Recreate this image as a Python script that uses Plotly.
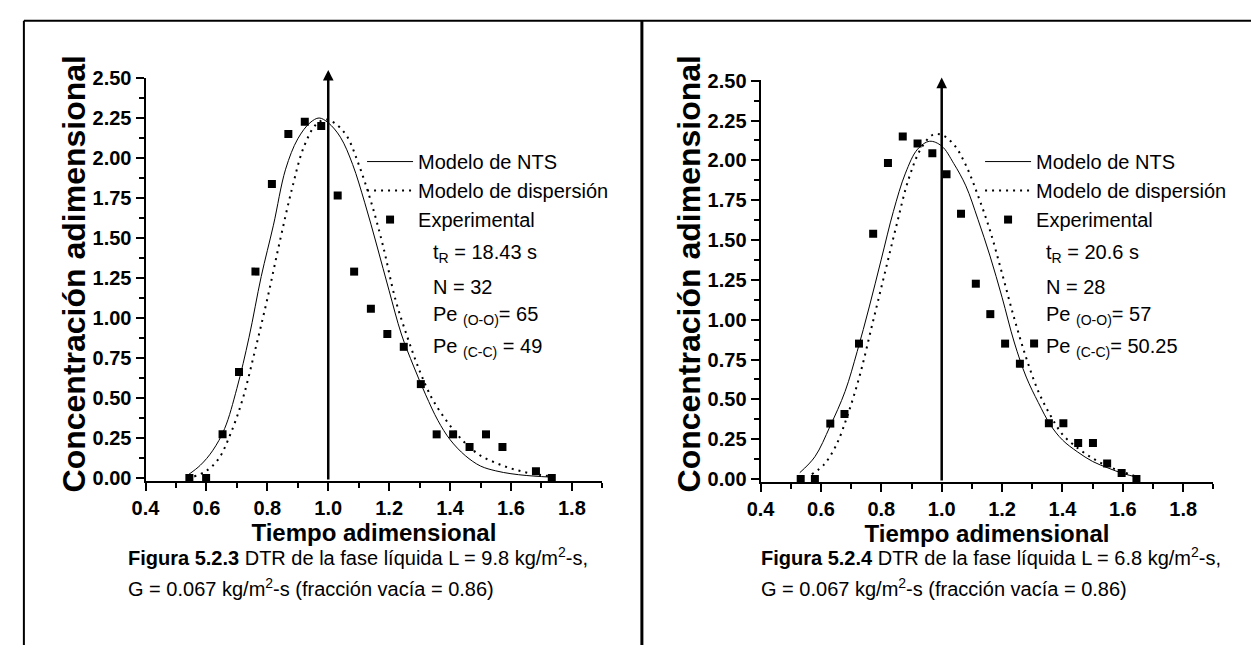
import plotly.graph_objects as go

W, H = 1251, 653

# ---------------- data ----------------
# Figura 5.2.3 (left panel)
exp_t_left = [0.544, 0.599, 0.653, 0.707, 0.761, 0.815, 0.869, 0.923, 0.977, 1.031, 1.085,
              1.140, 1.194, 1.248, 1.304, 1.356, 1.410, 1.464, 1.518, 1.572, 1.682, 1.734]
exp_c_left = [0.00, 0.00, 0.273, 0.663, 1.29, 1.837, 2.15, 2.227, 2.20, 1.766, 1.29,
              1.058, 0.90, 0.82, 0.587, 0.273, 0.273, 0.194, 0.273, 0.194, 0.042, 0.00]

nts_t_left = [0.54, 0.58, 0.62, 0.66, 0.70, 0.74, 0.78, 0.82, 0.86, 0.90, 0.94, 0.97, 1.00, 1.04, 1.08,
              1.12, 1.16, 1.20, 1.24, 1.28, 1.32, 1.36, 1.40, 1.45, 1.50, 1.55, 1.60, 1.65, 1.70, 1.74]
nts_c_left = [0.02, 0.08, 0.17, 0.31, 0.56, 0.88, 1.26, 1.58, 1.93, 2.12, 2.22, 2.25, 2.22, 2.13, 1.96,
              1.72, 1.45, 1.17, 0.90, 0.70, 0.52, 0.36, 0.24, 0.14, 0.075, 0.045, 0.027, 0.016, 0.009, 0.005]

disp_t_left = [0.56, 0.60, 0.64, 0.68, 0.72, 0.76, 0.80, 0.84, 0.88, 0.92, 0.96, 0.99, 1.02, 1.06, 1.10,
               1.14, 1.18, 1.22, 1.26, 1.30, 1.34, 1.38, 1.42, 1.46, 1.50, 1.55, 1.60, 1.65, 1.70, 1.74]
disp_c_left = [0.01, 0.045, 0.12, 0.28, 0.50, 0.80, 1.12, 1.47, 1.80, 2.07, 2.21, 2.24, 2.22, 2.14, 1.96,
               1.73, 1.45, 1.12, 0.88, 0.67, 0.50, 0.38, 0.28, 0.20, 0.14, 0.095, 0.06, 0.035, 0.018, 0.01]

# Figura 5.2.4 (right panel)
exp_t_right = [0.533, 0.580, 0.631, 0.678, 0.726, 0.773, 0.822, 0.871, 0.920, 0.969, 1.016, 1.064,
               1.113, 1.161, 1.210, 1.259, 1.306, 1.355, 1.403, 1.452, 1.501, 1.548, 1.596, 1.645]
exp_c_right = [0.00, 0.00, 0.348, 0.408, 0.85, 1.54, 1.984, 2.15, 2.106, 2.045, 1.913, 1.665,
               1.226, 1.035, 0.85, 0.724, 0.85, 0.35, 0.35, 0.226, 0.226, 0.098, 0.037, 0.00]

nts_t_right = [0.53, 0.58, 0.63, 0.68, 0.72, 0.76, 0.80, 0.84, 0.88, 0.92, 0.96, 1.00, 1.04, 1.08,
               1.12, 1.16, 1.20, 1.24, 1.28, 1.32, 1.36, 1.40, 1.45, 1.50, 1.55, 1.60, 1.65]
nts_c_right = [0.04, 0.14, 0.33, 0.55, 0.80, 1.08, 1.38, 1.68, 1.92, 2.07, 2.12, 2.09, 1.98, 1.84,
               1.63, 1.40, 1.14, 0.86, 0.64, 0.48, 0.34, 0.245, 0.17, 0.11, 0.07, 0.035, 0.01]

disp_t_right = [0.57, 0.61, 0.65, 0.69, 0.73, 0.77, 0.81, 0.85, 0.89, 0.93, 0.97, 1.00, 1.04, 1.08,
                1.12, 1.16, 1.20, 1.24, 1.28, 1.32, 1.36, 1.40, 1.45, 1.50, 1.55, 1.60, 1.65]
disp_c_right = [0.03, 0.09, 0.21, 0.41, 0.66, 0.97, 1.28, 1.59, 1.88, 2.07, 2.16, 2.16, 2.10, 1.97,
                1.78, 1.56, 1.29, 1.01, 0.76, 0.55, 0.40, 0.28, 0.195, 0.13, 0.08, 0.045, 0.012]

# reference line at t/tR = 1 (arrow): [bottom, tip]
ref_t = 1.0
ref_c_left = [-0.018, 2.55]
ref_c_right = [-0.018, 2.52]

series_names = ["Modelo de NTS", "Modelo de dispersión", "Experimental"]
info_left = ["t<sub>R</sub> = 18.43 s", "N = 32", "Pe <sub>(O-O)</sub>= 65", "Pe <sub>(C-C)</sub> = 49"]
info_right = ["t<sub>R</sub> = 20.6 s", "N = 28", "Pe <sub>(O-O)</sub>= 57", "Pe <sub>(C-C)</sub>= 50.25"]
cap_left = ["<b>Figura 5.2.3</b> DTR de la fase líquida L = 9.8 kg/m<sup>2</sup>-s,",
            "G = 0.067 kg/m<sup>2</sup>-s (fracción vacía = 0.86)"]
cap_right = ["<b>Figura 5.2.4</b> DTR de la fase líquida L = 6.8 kg/m<sup>2</sup>-s,",
             "G = 0.067 kg/m<sup>2</sup>-s (fracción vacía = 0.86)"]
x_title = "Tiempo adimensional"
y_title = "Concentración adimensional"

# ---------------- figure ----------------
FONT = "Liberation Sans, Arial, sans-serif"
fig = go.Figure()


def add_panel(xa, ya, legend, nts_t, nts_c, disp_t, disp_c, exp_t, exp_c, ref_c):
    fig.add_trace(go.Scatter(x=nts_t, y=nts_c, mode="lines", name=series_names[0],
                             line=dict(color="black", width=1, shape="spline", smoothing=1),
                             xaxis=xa, yaxis=ya, legend=legend))
    fig.add_trace(go.Scatter(x=disp_t, y=disp_c, mode="lines", name=series_names[1],
                             line=dict(color="black", width=2, dash="2px,5px", shape="spline", smoothing=1),
                             xaxis=xa, yaxis=ya, legend=legend))
    fig.add_trace(go.Scatter(x=exp_t, y=exp_c, mode="markers", name=series_names[2],
                             marker=dict(symbol="square", size=8, color="black"),
                             xaxis=xa, yaxis=ya, legend=legend))
    fig.add_annotation(x=ref_t, y=ref_c[1], ax=ref_t, ay=ref_c[0], xref=xa, yref=ya,
                       axref=xa, ayref=ya, text="", showarrow=True, arrowhead=2,
                       arrowsize=0.85, arrowwidth=2.5, arrowcolor="black")


add_panel("x", "y", "legend", nts_t_left, nts_c_left, disp_t_left, disp_c_left,
          exp_t_left, exp_c_left, ref_c_left)
add_panel("x2", "y2", "legend2", nts_t_right, nts_c_right, disp_t_right, disp_c_right,
          exp_t_right, exp_c_right, ref_c_right)


def px_x(p):
    return p / W


def px_y(p):
    return 1 - p / H


axis_common = dict(showline=True, linecolor="black", linewidth=2, ticks="outside", ticklen=8,
                   tickwidth=1.5, tickcolor="black", showgrid=False, zeroline=False,
                   tickfont=dict(family=FONT, size=20, color="black", weight="bold"),
                   minor=dict(ticks="outside", ticklen=5, tickwidth=1.5, tickcolor="black"))

xcommon = dict(axis_common, range=[0.4, 1.9], tick0=0.4, dtick=0.2, tickformat=".1f",
               title=dict(text=x_title, font=dict(family=FONT, size=24, color="black", weight="bold"),
                          standoff=2))
xcommon["minor"] = dict(axis_common["minor"], dtick=0.1, tick0=0.4)
ycommon = dict(axis_common, tick0=0, dtick=0.25, tickformat=".2f")
ycommon["minor"] = dict(axis_common["minor"], dtick=0.125, tick0=0)

fig.update_layout(
    width=W, height=H, margin=dict(l=0, r=0, t=0, b=0),
    paper_bgcolor="white", plot_bgcolor="white",
    font=dict(family=FONT, color="black"),
    xaxis=dict(xcommon, domain=[px_x(133), px_x(595)], anchor="y"),
    yaxis=dict(ycommon, domain=[px_y(484), px_y(69)], anchor="x", range=[-0.018, 2.5]),
    xaxis2=dict(xcommon, domain=[px_x(755), px_x(1213)], anchor="y2"),
    yaxis2=dict(ycommon, domain=[px_y(485), px_y(71)], anchor="x2", range=[-0.018, 2.505]),
    legend=dict(x=px_x(352), y=px_y(135), xanchor="left", yanchor="top", bgcolor="rgba(0,0,0,0)",
                font=dict(family=FONT, size=20, color="black"), itemwidth=46, tracegroupgap=0),
    legend2=dict(x=px_x(977), y=px_y(135), xanchor="left", yanchor="top", bgcolor="rgba(0,0,0,0)",
                 font=dict(family=FONT, size=20, color="black"), itemwidth=46, tracegroupgap=0),
    showlegend=True,
)

# y-axis titles (rotated)
for x0 in (61, 683):
    fig.add_annotation(text=y_title, x=px_x(x0), y=px_y(271), xref="paper", yref="paper",
                       textangle=-90, xanchor="center", yanchor="middle", showarrow=False,
                       font=dict(family=FONT, size=32, color="black", weight="bold"))

# info text blocks
info_y = [250, 284, 314, 347]
for texts, x0 in ((info_left, 422), (info_right, 1042)):
    for t, yy in zip(texts, info_y):
        fig.add_annotation(text=t, x=px_x(x0), y=px_y(yy), xref="paper", yref="paper",
                           xanchor="left", yanchor="middle", showarrow=False,
                           font=dict(family=FONT, size=20, color="black"))

# captions
cap_y = [562, 594]
for texts, x0 in ((cap_left, 113), (cap_right, 753)):
    for t, yy in zip(texts, cap_y):
        fig.add_annotation(text=t, x=px_x(x0), y=px_y(yy), xref="paper", yref="paper",
                           xanchor="left", yanchor="middle", showarrow=False,
                           font=dict(family=FONT, size=20, color="black"))

# page frame
frame = dict(type="line", xref="paper", yref="paper", line=dict(color="black"))
fig.add_shape(frame, x0=px_x(10), x1=1, y0=px_y(10), y1=px_y(10), line_width=2)
fig.add_shape(frame, x0=px_x(10), x1=px_x(10), y0=0, y1=px_y(10), line_width=2)
fig.add_shape(frame, x0=px_x(635), x1=px_x(635), y0=0, y1=px_y(10), line_width=3)

fig.write_html("out.html", config={"displayModeBar": False},
               post_script="document.body.style.margin='0px';")
